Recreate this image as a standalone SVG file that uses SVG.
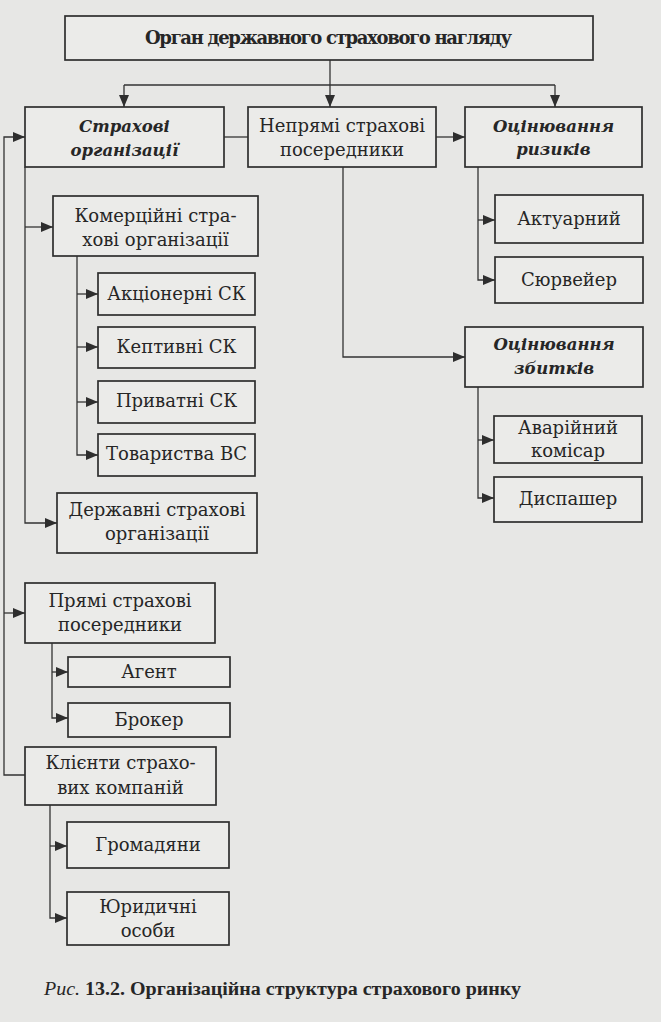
<svg xmlns="http://www.w3.org/2000/svg" width="661" height="1022" viewBox="0 0 661 1022">
<style>
.bx{fill:#ebebe9;stroke:#2e2e2e;stroke-width:1.7}
.t{font-family:"DejaVu Serif","Liberation Serif",serif;font-size:18px;fill:#262626;text-anchor:middle}
.b{font-weight:bold}
.bi{font-weight:bold;font-style:italic;font-size:16.5px}
.c{fill:none;stroke:#333;stroke-width:1.3}
</style>
<defs>
<marker id="ar" markerUnits="userSpaceOnUse" markerWidth="13" markerHeight="11" refX="12" refY="5" orient="auto">
<path d="M0,0 L12,5 L0,10 z" fill="#2e2e2e"/>
</marker>
</defs>
<rect x="0" y="0" width="661" height="1022" fill="#e7e7e5"/>

<g id="connectors">
<path class="c" d="M330,60 V107" marker-end="url(#ar)"/>
<path class="c" d="M124,85 H555"/>
<path class="c" d="M124,85 V107" marker-end="url(#ar)"/>
<path class="c" d="M555,85 V107" marker-end="url(#ar)"/>
<path class="c" d="M224,137 H248"/>
<path class="c" d="M436,137 H465" marker-end="url(#ar)"/>
<path class="c" d="M25,775 H4 V137 H25" marker-end="url(#ar)"/>
<path class="c" d="M4,613 H25" marker-end="url(#ar)"/>
<path class="c" d="M25,167 V523 H57" marker-end="url(#ar)"/>
<path class="c" d="M25,227 H53" marker-end="url(#ar)"/>
<path class="c" d="M77,256 V455 H98" marker-end="url(#ar)"/>
<path class="c" d="M77,294 H98" marker-end="url(#ar)"/>
<path class="c" d="M77,347 H98" marker-end="url(#ar)"/>
<path class="c" d="M77,402 H98" marker-end="url(#ar)"/>
<path class="c" d="M52,643 V718 H68" marker-end="url(#ar)"/>
<path class="c" d="M52,672 H68" marker-end="url(#ar)"/>
<path class="c" d="M50,805 V918 H67" marker-end="url(#ar)"/>
<path class="c" d="M50,846 H67" marker-end="url(#ar)"/>
<path class="c" d="M478,167 V280 H495" marker-end="url(#ar)"/>
<path class="c" d="M478,220 H495" marker-end="url(#ar)"/>
<path class="c" d="M343,167 V357 H465" marker-end="url(#ar)"/>
<path class="c" d="M478,387 V498 H494" marker-end="url(#ar)"/>
<path class="c" d="M478,440 H494" marker-end="url(#ar)"/>
</g>

<g id="n-organ"><rect class="bx" x="65" y="16" width="528" height="44"/><text class="t b" x="328.5" y="44" font-size="16" textLength="367">Орган державного страхового нагляду</text></g>
<g id="n-strakhovi"><rect class="bx" x="25" y="107" width="199" height="60"/><text class="t bi" x="124.5" y="132">Страхові</text><text class="t bi" x="124.5" y="156">організації</text></g>
<g id="n-nepriami"><rect class="bx" x="248" y="107" width="188" height="60"/><text class="t" x="342" y="132">Непрямі страхові</text><text class="t" x="342" y="156">посередники</text></g>
<g id="n-ryzyky"><rect class="bx" x="465" y="107" width="177" height="60"/><text class="t bi" x="553.5" y="132">Оцінювання</text><text class="t bi" x="553.5" y="155">ризиків</text></g>
<g id="n-komertsiini"><rect class="bx" x="53" y="196" width="205" height="60"/><text class="t" x="155.5" y="222">Комерційні стра-</text><text class="t" x="155.5" y="246">хові організації</text></g>
<g id="n-aktsionerni"><rect class="bx" x="98" y="273" width="157" height="42"/><text class="t" x="176.5" y="300">Акціонерні СК</text></g>
<g id="n-keptyvni"><rect class="bx" x="98" y="327" width="157" height="41"/><text class="t" x="176.5" y="353">Кептивні СК</text></g>
<g id="n-pryvatni"><rect class="bx" x="98" y="381" width="157" height="42"/><text class="t" x="176.5" y="407">Приватні СК</text></g>
<g id="n-tovarystva"><rect class="bx" x="98" y="434" width="157" height="42"/><text class="t" x="176.5" y="460">Товариства ВС</text></g>
<g id="n-derzhavni"><rect class="bx" x="57" y="493" width="200" height="60"/><text class="t" x="157" y="516">Державні страхові</text><text class="t" x="157" y="540">організації</text></g>
<g id="n-priami"><rect class="bx" x="25" y="583" width="190" height="60"/><text class="t" x="120" y="607">Прямі страхові</text><text class="t" x="120" y="631">посередники</text></g>
<g id="n-agent"><rect class="bx" x="68" y="657" width="162" height="30"/><text class="t" x="149" y="678">Агент</text></g>
<g id="n-broker"><rect class="bx" x="68" y="703" width="162" height="34"/><text class="t" x="149" y="726">Брокер</text></g>
<g id="n-kliienty"><rect class="bx" x="25" y="747" width="191" height="58"/><text class="t" x="120.5" y="769">Клієнти страхо-</text><text class="t" x="120.5" y="794">вих компаній</text></g>
<g id="n-hromadiany"><rect class="bx" x="67" y="822" width="162" height="46"/><text class="t" x="148" y="851">Громадяни</text></g>
<g id="n-yurydychni"><rect class="bx" x="67" y="892" width="162" height="53"/><text class="t" x="148" y="913">Юридичні</text><text class="t" x="148" y="937">особи</text></g>
<g id="n-aktuarnyi"><rect class="bx" x="495" y="195" width="148" height="48"/><text class="t" x="569" y="225">Актуарний</text></g>
<g id="n-siurveier"><rect class="bx" x="495" y="257" width="148" height="46"/><text class="t" x="569" y="286">Сюрвейер</text></g>
<g id="n-zbytky"><rect class="bx" x="465" y="327" width="178" height="60"/><text class="t bi" x="554" y="350">Оцінювання</text><text class="t bi" x="554" y="374">збитків</text></g>
<g id="n-avariinyi"><rect class="bx" x="494" y="416" width="148" height="47"/><text class="t" x="568" y="434">Аварійний</text><text class="t" x="568" y="457">комісар</text></g>
<g id="n-dyspasher"><rect class="bx" x="494" y="477" width="148" height="45"/><text class="t" x="568" y="505">Диспашер</text></g>

<text x="44" y="995" font-family="Liberation Serif,serif" font-size="18" fill="#262626" textLength="477" lengthAdjust="spacingAndGlyphs"><tspan font-style="italic">Рис.</tspan><tspan font-weight="bold"> 13.2. Організаційна структура страхового ринку</tspan></text>
</svg>
